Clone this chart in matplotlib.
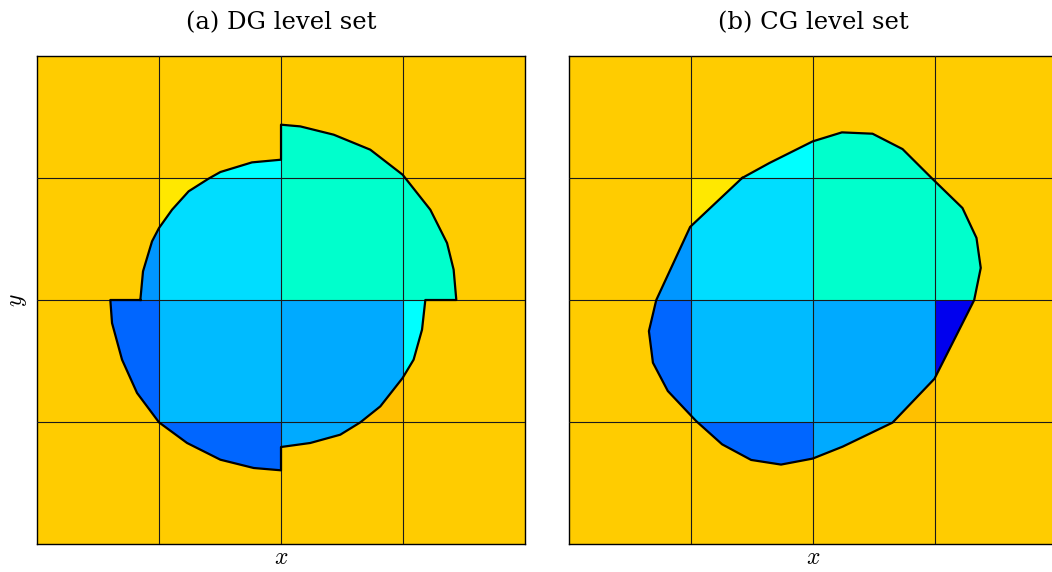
import matplotlib.pyplot as plt
from matplotlib.patches import Rectangle, Polygon

plt.rcParams["mathtext.fontset"] = "cm"

ORANGE = "#ffcc00"
YELLOW = "#ffe800"
DEEP_ORANGE = "#ffc000"

# colour of the cell outside the interface (default orange)
outside_colors = {(1, 2): YELLOW, (2, 1): DEEP_ORANGE}

# DG level set: one curve per 2x2 quadrant (discontinuous across x=2, y=2)
dg_ul_x = [0.847, 0.869, 0.943, 1.0, 1.107, 1.243, 1.407, 1.503, 1.762, 2.0]
dg_ul_y = [2.0, 2.235, 2.481, 2.590, 2.740, 2.891, 2.995, 3.049, 3.128, 3.150]
dg_ur_x = [2.0, 2.158, 2.432, 2.732, 2.997, 3.224, 3.361, 3.415, 3.437]
dg_ur_y = [3.437, 3.423, 3.355, 3.232, 3.027, 2.740, 2.467, 2.249, 2.0]
dg_lr_x = [3.183, 3.156, 3.087, 2.997, 2.814, 2.650, 2.486, 2.240, 2.0]
dg_lr_y = [2.0, 1.757, 1.511, 1.361, 1.128, 0.997, 0.896, 0.828, 0.795]
dg_ll_x = [2.0, 1.776, 1.503, 1.230, 1.0, 0.820, 0.697, 0.615, 0.601]
dg_ll_y = [0.604, 0.623, 0.691, 0.828, 0.997, 1.238, 1.511, 1.811, 2.0]

dg_inside = {
    (0, 2): "#0096ff", (1, 2): "#00ddff", (1, 3): "#00ffff",
    (2, 2): "#00ffcc", (2, 3): "#00ffcc", (3, 2): "#00ffcc", (3, 3): "#00ffcc",
    (0, 1): "#0066ff", (1, 1): "#00bbff", (1, 0): "#0066ff",
    (2, 1): "#00aaff", (2, 0): "#00aaff", (3, 1): "#00ffff",
}

# CG level set: one continuous curve
cg_x = [1.419, 1.643, 1.997, 2.237, 2.488, 2.734, 2.980, 3.225, 3.340, 3.375,
        3.321, 2.996, 2.652, 2.243, 1.997, 1.738, 1.493, 1.255, 1.042, 0.810,
        0.688, 0.655, 0.715, 0.993]
cg_y = [3.0, 3.123, 3.300, 3.374, 3.363, 3.237, 2.992, 2.754, 2.509, 2.263,
        1.999, 1.355, 0.995, 0.798, 0.700, 0.651, 0.689, 0.817, 1.008, 1.254,
        1.486, 1.745, 1.999, 2.599]

cg_inside = {
    (0, 2): "#0096ff", (1, 2): "#00ddff", (1, 3): "#00ffff",
    (2, 2): "#00ffcc", (2, 3): "#00ffcc", (3, 2): "#00ffcc", (3, 3): "#00ffcc",
    (0, 1): "#0066ff", (1, 1): "#00bbff", (1, 0): "#0066ff",
    (2, 1): "#00aaff", (2, 0): "#00aaff", (3, 1): "#0000ee",
}


def draw_cells(ax):
    for i in range(4):
        for j in range(4):
            color = outside_colors.get((i, j), ORANGE)
            ax.add_patch(Rectangle((i, j), 1, 1, facecolor=color, edgecolor="none", zorder=1))


def fill_clipped(ax, xs, ys, inside):
    pts = list(zip(xs, ys))
    for (i, j), color in inside.items():
        poly = Polygon(pts, closed=True, facecolor=color, edgecolor="none", zorder=2)
        ax.add_patch(poly)
        clip = Rectangle((i, j), 1, 1, transform=ax.transData)
        poly.set_clip_path(clip)


def finish(ax, title):
    for k in [1, 2, 3]:
        ax.axvline(k, color="#1a1a1a", lw=0.8, zorder=3)
        ax.axhline(k, color="#1a1a1a", lw=0.8, zorder=3)
    ax.set_xlim(0, 4)
    ax.set_ylim(0, 4)
    ax.set_xticks([])
    ax.set_yticks([])
    for s in ax.spines.values():
        s.set_linewidth(1.0)
    ax.set_title(title, fontsize=17.5, family="DejaVu Serif", pad=19)
    ax.set_xlabel("$x$", fontsize=17, labelpad=1)


fig = plt.figure(figsize=(10.52, 5.72), dpi=100)
ax1 = fig.add_axes([37 / 1052, 28 / 572, 488 / 1052, 488 / 572])
ax2 = fig.add_axes([569 / 1052, 28 / 572, 488 / 1052, 488 / 572])

# (a) DG
draw_cells(ax1)
fill_clipped(ax1, dg_ul_x + [2.0], dg_ul_y + [2.0], {k: v for k, v in dg_inside.items() if k[0] < 2 and k[1] >= 2})
fill_clipped(ax1, dg_ur_x + [2.0], dg_ur_y + [2.0], {k: v for k, v in dg_inside.items() if k[0] >= 2 and k[1] >= 2})
fill_clipped(ax1, dg_lr_x + [2.0], dg_lr_y + [2.0], {k: v for k, v in dg_inside.items() if k[0] >= 2 and k[1] < 2})
fill_clipped(ax1, dg_ll_x + [2.0], dg_ll_y + [2.0], {k: v for k, v in dg_inside.items() if k[0] < 2 and k[1] < 2})
outline_x = dg_ul_x + dg_ur_x + dg_lr_x + dg_ll_x + [dg_ul_x[0]]
outline_y = dg_ul_y + dg_ur_y + dg_lr_y + dg_ll_y + [dg_ul_y[0]]
ax1.plot(outline_x, outline_y, color="black", lw=1.6, zorder=4, solid_joinstyle="round")
finish(ax1, "(a) DG level set")
ax1.set_ylabel("$y$", fontsize=17, labelpad=6)

# (b) CG
draw_cells(ax2)
fill_clipped(ax2, cg_x, cg_y, cg_inside)
ax2.plot(cg_x + [cg_x[0]], cg_y + [cg_y[0]], color="black", lw=1.6, zorder=4, solid_joinstyle="round")
finish(ax2, "(b) CG level set")

fig.savefig("out.png", dpi=100)
